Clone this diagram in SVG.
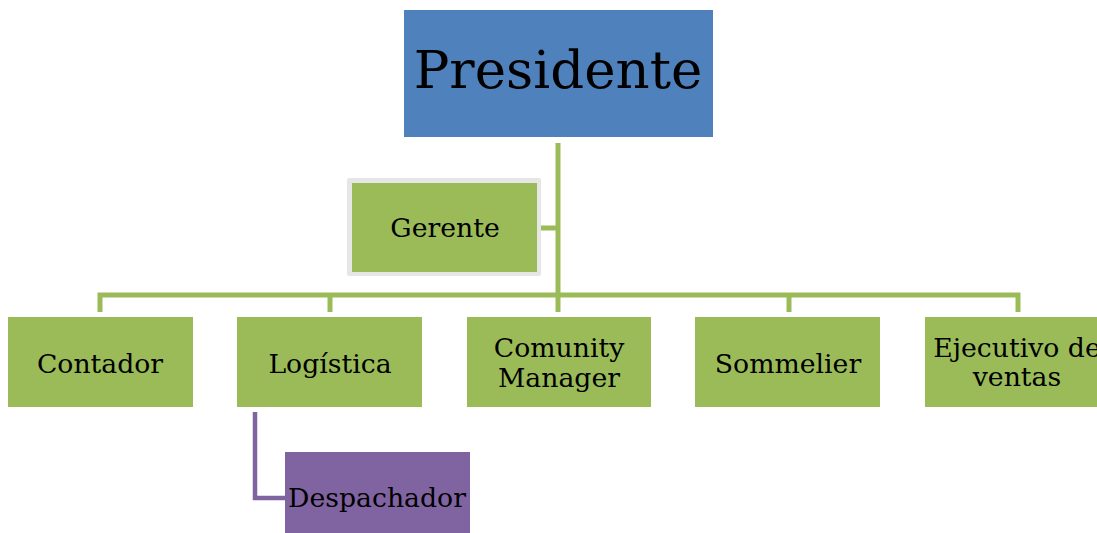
<svg xmlns="http://www.w3.org/2000/svg" width="1097" height="533" viewBox="0 0 1097 533">
<style>
text { font-family: "DejaVu Serif", "Liberation Serif", serif; fill: #000; text-anchor: middle; font-size: 26.7px; }
.green { fill: #9BBB59; }
.gline { stroke: #9BBB59; stroke-width: 5; fill: none; }
.pline { stroke: #8064A2; stroke-width: 4.5; fill: none; }
</style>
<rect width="1097" height="533" fill="#FFFFFF"/>
<g id="connectors">
  <path class="gline" d="M558 143 V312"/>
  <path class="gline" d="M541 228 H558"/>
  <path class="gline" d="M100 312 V295 H1018 V312"/>
  <path class="gline" d="M330 295 V312"/>
  <path class="gline" d="M789 295 V312"/>
  <path class="pline" d="M255 412 V498 H285"/>
</g>
<g id="presidente">
  <rect x="404" y="10" width="309" height="127" fill="#4F81BD"/>
  <text x="558" y="88" style="font-size:53px">Presidente</text>
</g>
<g id="gerente">
  <rect x="347" y="178" width="194" height="98" rx="2" fill="#E6E6E6"/>
  <rect x="352" y="183" width="185" height="89" class="green"/>
  <text x="445" y="237">Gerente</text>
</g>
<g id="contador">
  <rect x="8" y="317" width="185" height="90" class="green"/>
  <text x="100" y="373">Contador</text>
</g>
<g id="logistica">
  <rect x="237" y="317" width="185" height="90" class="green"/>
  <text x="330" y="373">Logística</text>
</g>
<g id="comunity">
  <rect x="467" y="317" width="184" height="90" class="green"/>
  <text x="559" y="357">Comunity</text>
  <text x="559" y="387">Manager</text>
</g>
<g id="sommelier">
  <rect x="695" y="317" width="185" height="90" class="green"/>
  <text x="788" y="373">Sommelier</text>
</g>
<g id="ejecutivo">
  <rect x="925" y="317" width="185" height="90" class="green"/>
  <text x="1017" y="357">Ejecutivo de</text>
  <text x="1017" y="386">ventas</text>
</g>
<g id="despachador">
  <rect x="285" y="452" width="185" height="90" fill="#8064A2"/>
  <text x="377" y="507">Despachador</text>
</g>
</svg>
